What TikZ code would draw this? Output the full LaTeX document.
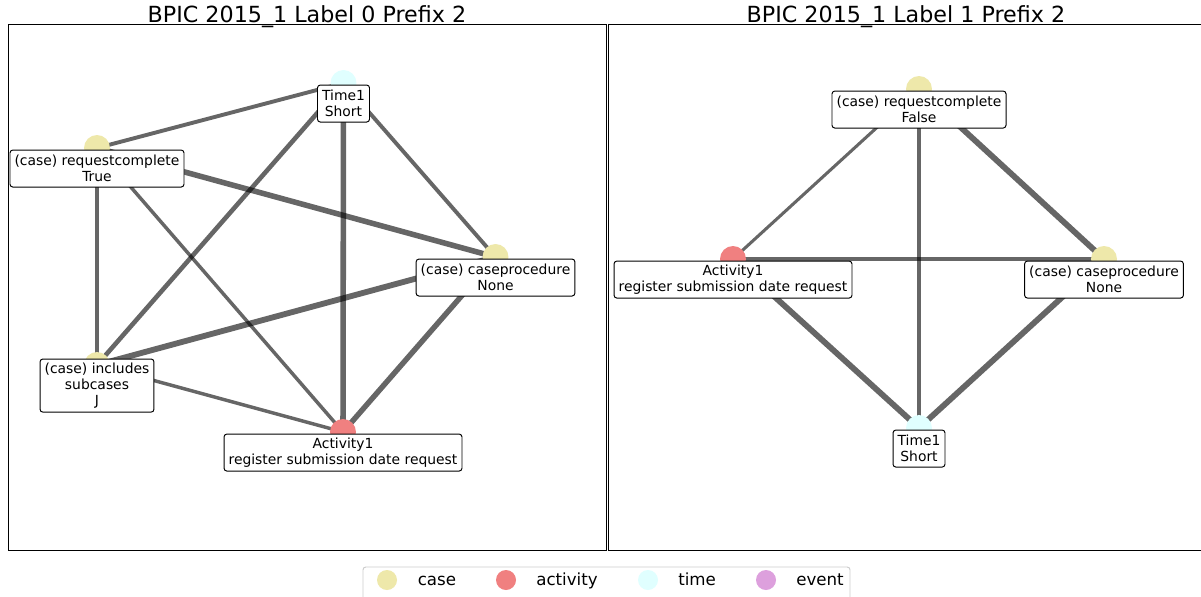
\documentclass[tikz,border=0pt]{standalone}
\usepackage{fontspec}
\setmainfont{DejaVu Sans}

\definecolor{casecol}{HTML}{EEE8AA}
\definecolor{actcol}{HTML}{F08080}
\definecolor{timecol}{HTML}{E0FFFF}
\definecolor{eventcol}{HTML}{DDA0DD}

\pgfdeclarelayer{canvas}
\pgfdeclarelayer{edges}
\pgfsetlayers{canvas,edges,main}

\tikzset{
  dot/.style={circle, draw=none, minimum size=18.7pt, inner sep=0pt},
  casedot/.style={dot, fill=casecol},
  actdot/.style={dot, fill=actcol},
  timedot/.style={dot, fill=timecol},
  legdot/.style={circle, draw=none, minimum size=14.4pt, inner sep=0pt},
  lbl/.style={draw=black, fill=white, rounded corners=2pt, line width=0.7pt,
    align=center, font=\fontsize{10}{11.5}\selectfont,
    inner xsep=3.3pt, inner ysep=2pt, minimum height=26.6pt, yshift=-14.8pt},
  lbltall/.style={lbl, minimum height=38.2pt},
  edge/.style={draw=black, draw opacity=0.6, line cap=butt},
  panel/.style={draw=black, line width=0.6pt},
  paneltitle/.style={anchor=base, font=\fontsize{16}{19}\selectfont, inner sep=0pt},
  legtext/.style={anchor=base west, font=\fontsize{12}{14}\selectfont, inner sep=0pt}
}

\begin{document}
\begin{tikzpicture}[x=0.72pt, y=-0.72pt]
\clip (0,0) rectangle (1201,596);
\begin{pgfonlayer}{canvas}
  \fill[white] (0,0) rectangle (1201,596);
\end{pgfonlayer}

% panel frames and titles
\draw[panel] (8,24) rectangle (606,550);
\draw[panel] (608,24) rectangle (1206,550);
\node[paneltitle] (t0) at (307,22.5) {BPIC 2015\_1 Label 0 Prefix 2};
\node[paneltitle] (t1) at (906,22.5) {BPIC 2015\_1 Label 1 Prefix 2};

% left graph: nodes
\node[timedot] (lt)  at (343.5,83) {};
\node[casedot] (lrc) at (97,148) {};
\node[casedot] (lcp) at (495.5,257) {};
\node[casedot] (lin) at (97,365) {};
\node[actdot]  (lac) at (343,432) {};

\node[lbl] (ltL)  at (lt)  {Time1\\Short};
\node[lbl] (lrcL) at (lrc) {(case) requestcomplete\\True};
\node[lbl] (lcpL) at (lcp) {(case) caseprocedure\\None};
\node[lbltall] (linL) at (lin) {(case) includes\\subcases\\J};
\node[lbl] (lacL) at (lac) {Activity1\\register submission date request};

% right graph: nodes
\node[casedot] (rrc) at (919,89) {};
\node[actdot]  (rac) at (733,259) {};
\node[casedot] (rcp) at (1104,259) {};
\node[timedot] (rt)  at (919,428) {};

\node[lbl] (rrcL) at (rrc) {(case) requestcomplete\\False};
\node[lbl] (racL) at (rac) {Activity1\\register submission date request};
\node[lbl] (rcpL) at (rcp) {(case) caseprocedure\\None};
\node[lbl] (rtL)  at (rt)  {Time1\\Short};

% edges, drawn beneath the nodes
\begin{pgfonlayer}{edges}
  \draw[edge, line width=2.8pt] (lt.center) -- (lrc.center);
  \draw[edge, line width=2.8pt] (lt.center) -- (lcp.center);
  \draw[edge, line width=3.3pt] (lt.center) -- (lin.center);
  \draw[edge, line width=4.0pt] (lt.center) -- (lac.center);
  \draw[edge, line width=4.0pt] (lrc.center) -- (lcp.center);
  \draw[edge, line width=3.0pt] (lrc.center) -- (lin.center);
  \draw[edge, line width=2.5pt] (lrc.center) -- (lac.center);
  \draw[edge, line width=4.2pt] (lcp.center) -- (lin.center);
  \draw[edge, line width=3.9pt] (lcp.center) -- (lac.center);
  \draw[edge, line width=2.5pt] (lin.center) -- (lac.center);

  \draw[edge, line width=2.2pt] (rrc.center) -- (rac.center);
  \draw[edge, line width=2.2pt] (rrc.center) -- (rt.center);
  \draw[edge, line width=4.2pt] (rrc.center) -- (rcp.center);
  \draw[edge, line width=2.2pt] (rac.center) -- (rcp.center);
  \draw[edge, line width=4.2pt] (rac.center) -- (rt.center);
  \draw[edge, line width=4.2pt] (rcp.center) -- (rt.center);
\end{pgfonlayer}

% legend
\draw[draw=black!20, fill=white, line width=0.7pt, rounded corners=2pt]
  (363,567) rectangle (850,602);
\node[legdot, fill=casecol]  (lg1) at (387,580) {};
\node[legtext] (lg1t) at (417.5,585) {case};
\node[legdot, fill=actcol]   (lg2) at (506,580) {};
\node[legtext] (lg2t) at (536,585) {activity};
\node[legdot, fill=timecol]  (lg3) at (648,580) {};
\node[legtext] (lg3t) at (678,585) {time};
\node[legdot, fill=eventcol] (lg4) at (766,580) {};
\node[legtext] (lg4t) at (796,585) {event};
\end{tikzpicture}
\end{document}
